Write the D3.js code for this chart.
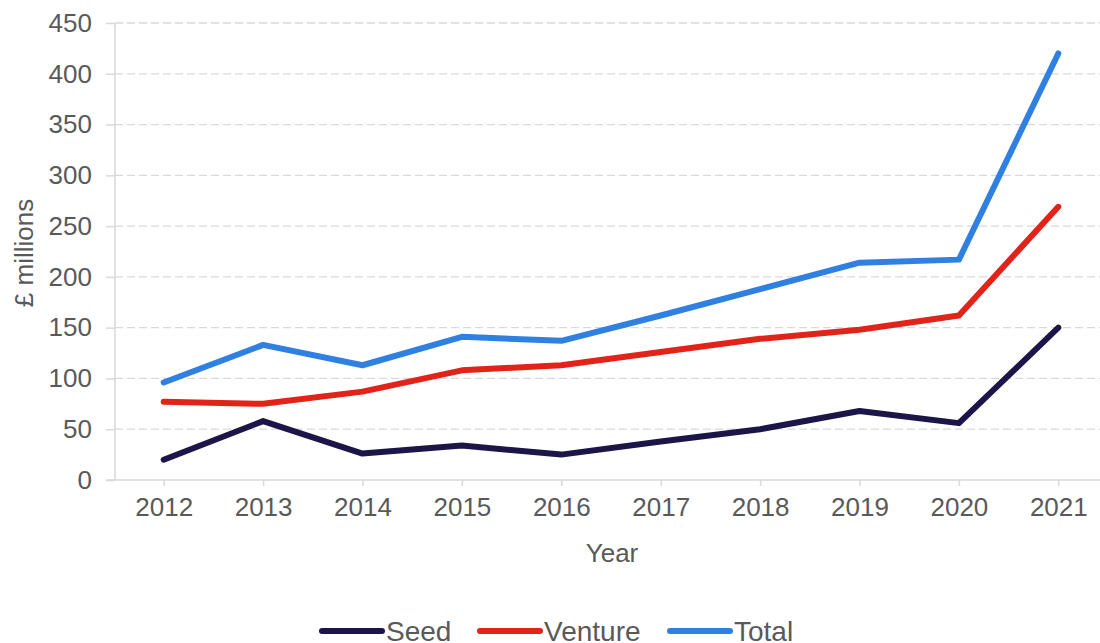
<!DOCTYPE html>
<html>
<head>
<meta charset="utf-8">
<script src="https://cdn.jsdelivr.net/npm/d3@7"></script>
<style>
  body { margin: 0; background: #fff; }
  text { font-family: "Liberation Sans", Arial, sans-serif; fill: #595959; }
</style>
</head>
<body>
<div id="chart"></div>
<script>
// data
var years = ["2012", "2013", "2014", "2015", "2016", "2017", "2018", "2019", "2020", "2021"];
var seed = [20, 58, 26, 34, 25, 38, 50, 68, 56, 150];
var venture = [77, 75, 87, 108, 113, 126, 139, 148, 162, 269];
var total = [96, 133, 113, 141, 137, 162, 188, 214, 217, 420];
var yTicks = [0, 50, 100, 150, 200, 250, 300, 350, 400, 450];
var seriesNames = ["Seed", "Venture", "Total"];
var seriesColors = ["#1c1548", "#e2231a", "#2f80e0"];

var width = 1100,
  height = 643;

var svg = d3
  .select("#chart")
  .append("svg")
  .attr("width", width)
  .attr("height", height);

// scales
var x = d3.scalePoint().domain(years).range([114, 1108]).padding(0.5);
var y = d3.scaleLinear().domain([0, 450]).range([480, 23]);

// gridlines
svg
  .append("g")
  .selectAll("line")
  .data(yTicks.slice(1))
  .enter()
  .append("line")
  .attr("x1", 115)
  .attr("x2", 1108)
  .attr("y1", function (d) { return y(d); })
  .attr("y2", function (d) { return y(d); })
  .attr("stroke", "#d9d9d9")
  .attr("stroke-width", 1.3)
  .attr("stroke-dasharray", "8,4");

// Y axis
var yAxis = svg
  .append("g")
  .attr("transform", "translate(115,0)")
  .call(d3.axisLeft(y).tickValues(yTicks).tickSize(9).tickPadding(14));
yAxis.selectAll("line").attr("stroke", "#d9d9d9").attr("stroke-width", 1.5);
yAxis.select(".domain").attr("stroke", "#d9d9d9").attr("stroke-width", 1.5)
  .attr("d", "M0,480V23");
yAxis.selectAll("text").style("font-size", "26px").attr("fill", "#595959");

// X axis
var xAxis = svg
  .append("g")
  .attr("transform", "translate(0,480)")
  .call(d3.axisBottom(x).tickSize(6).tickPadding(12));
xAxis.select(".domain").attr("stroke", "#d9d9d9").attr("stroke-width", 1.5)
  .attr("d", "M106,0H1108");
xAxis.selectAll("line").attr("stroke", "#d9d9d9").attr("stroke-width", 1.5);
xAxis.selectAll("text").style("font-size", "26px").attr("fill", "#595959");

// axis titles
svg
  .append("text")
  .attr("x", 612)
  .attr("y", 562)
  .attr("text-anchor", "middle")
  .style("font-size", "26px")
  .text("Year");

svg
  .append("text")
  .attr("transform", "translate(33,253)rotate(-90)")
  .attr("text-anchor", "middle")
  .style("font-size", "26px")
  .text("£ millions");

// lines
var line = d3
  .line()
  .x(function (d, i) { return x(years[i]); })
  .y(function (d) { return y(d); });

[seed, venture, total].forEach(function (vals, i) {
  svg
    .append("path")
    .datum(vals)
    .attr("d", line)
    .attr("fill", "none")
    .attr("stroke", seriesColors[i])
    .attr("stroke-width", 6)
    .attr("stroke-linecap", "round")
    .attr("stroke-linejoin", "round");
});

// legend
var legendX = [322, 480, 670];
var legend = svg
  .selectAll(".legend")
  .data(seriesNames)
  .enter()
  .append("g")
  .attr("transform", function (d, i) { return "translate(" + legendX[i] + ",631)"; });

legend
  .append("line")
  .attr("x1", 0)
  .attr("x2", 60)
  .attr("stroke", function (d, i) { return seriesColors[i]; })
  .attr("stroke-width", 6)
  .attr("stroke-linecap", "round");

legend
  .append("text")
  .attr("x", 64)
  .attr("y", 10)
  .style("font-size", "28px")
  .text(function (d) { return d; });
</script>
</body>
</html>
